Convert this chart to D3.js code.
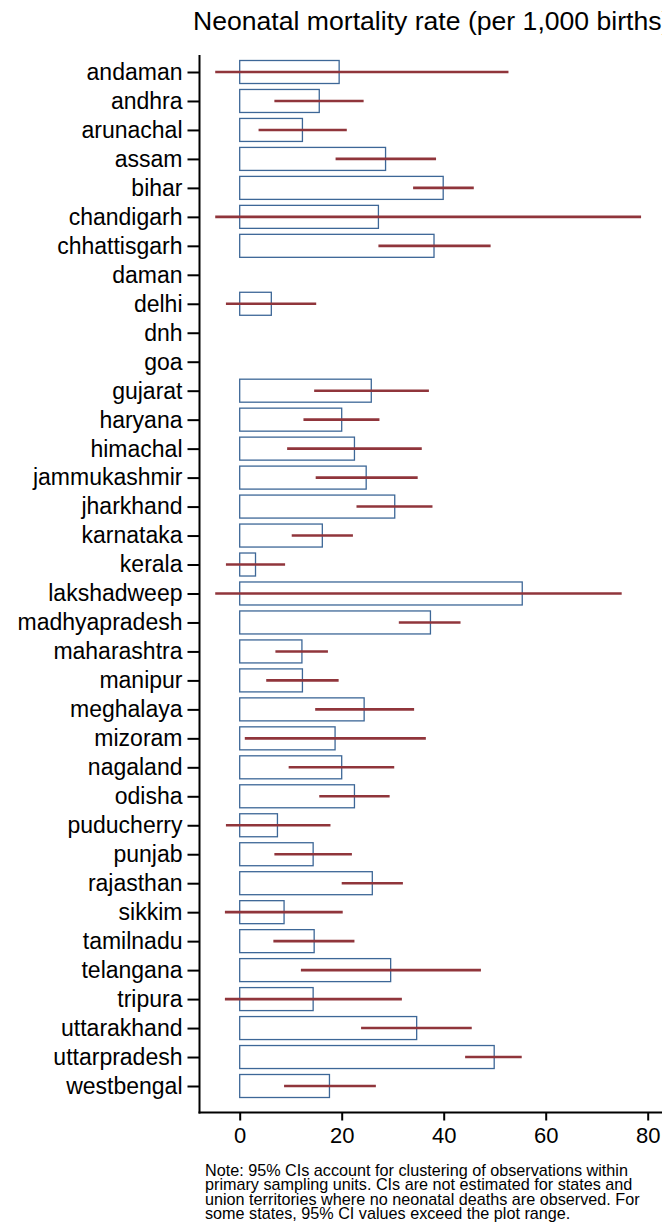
<!DOCTYPE html>
<html>
<head>
<meta charset="utf-8">
<script src="https://cdn.jsdelivr.net/npm/d3@7"></script>
<style>
  body { margin: 0; background: #fff; overflow: hidden; }
  svg { display: block; font-family: "Liberation Sans", Arial, sans-serif; }
</style>
</head>
<body>
<svg id="chart" width="662" height="1228"></svg>
<script>
// states (top to bottom)
const states = ['andaman','andhra','arunachal','assam','bihar','chandigarh','chhattisgarh','daman','delhi','dnh','goa','gujarat','haryana','himachal','jammukashmir','jharkhand','karnataka','kerala','lakshadweep','madhyapradesh','maharashtra','manipur','meghalaya','mizoram','nagaland','odisha','puducherry','punjab','rajasthan','sikkim','tamilnadu','telangana','tripura','uttarakhand','uttarpradesh','westbengal']
// neonatal mortality rate, null = no deaths observed
const nmr = [19.5,15.6,12.3,28.6,39.9,27.2,38.1,null,6.2,null,null,25.8,20.0,22.5,24.8,30.4,16.2,3.1,55.4,37.4,12.2,12.3,24.4,18.7,20.0,22.5,7.4,14.4,26.0,8.7,14.6,29.6,14.4,34.7,49.9,17.6]
const ciLow = [-4.8,6.8,3.7,18.8,34.0,-4.8,27.2,null,-2.7,null,null,14.6,12.5,9.3,14.9,22.9,10.2,-2.7,-4.8,31.2,7.0,5.2,14.8,1.0,9.6,15.6,-2.7,6.8,20.0,-2.9,6.6,12.0,-2.9,23.8,44.2,8.7]
const ciHigh = [52.7,24.3,21.0,38.5,45.9,78.7,49.2,null,15.0,null,null,37.1,27.4,35.7,34.9,37.8,22.2,8.9,74.9,43.3,17.3,19.4,34.2,36.5,30.3,29.4,17.8,22.0,32.0,20.2,22.5,47.3,31.8,45.5,55.3,26.7]
const xTicks = [0,20,40,60,80]
const title = 'Neonatal mortality rate (per 1,000 births)'
const noteLines = [
  'Note: 95% CIs account for clustering of observations within',
  'primary sampling units. CIs are not estimated for states and',
  'union territories where no neonatal deaths are observed. For',
  'some states, 95% CI values exceed the plot range.'
]

const data = states.map((s, i) => ({state: s, v: nmr[i], lo: ciLow[i], hi: ciHigh[i]}))

const svg = d3.select('#chart')
const axisX0 = 199.5, axisY = 1112.5, plotTop = 55

const x = d3.scaleLinear().domain([0, 80]).range([239.7, 647.7])
const y = d3.scalePoint().domain(states).range([72, 1086])
const barH = 23

svg.append('text')
  .attr('x', 193).attr('y', 30)
  .style('font-size', '26.6px')
  .attr('fill', '#000')
  .text(title)

// bars
svg.selectAll('.bar')
  .data(data.filter(d => d.v != null))
  .join('rect')
  .attr('class', 'bar')
  .attr('x', x(0))
  .attr('y', d => y(d.state) - barH / 2)
  .attr('width', d => x(d.v) - x(0))
  .attr('height', barH)
  .attr('fill', 'none')
  .attr('stroke', '#3d6797')
  .attr('stroke-width', 1.3)

// CI lines
svg.selectAll('.ci')
  .data(data.filter(d => d.lo != null))
  .join('line')
  .attr('class', 'ci')
  .attr('x1', d => x(d.lo))
  .attr('x2', d => x(d.hi))
  .attr('y1', d => y(d.state))
  .attr('y2', d => y(d.state))
  .attr('stroke', '#90353b')
  .attr('stroke-width', 2.6)

// axes
const yAxis = d3.axisLeft(y).tickSize(12).tickPadding(5).tickSizeOuter(0)
const gy = svg.append('g').attr('transform', `translate(${axisX0},0)`).call(yAxis)
gy.select('.domain').remove()
gy.selectAll('.tick line').attr('stroke', '#000').attr('stroke-width', 2)
gy.selectAll('.tick text').style('font-size', '23px').attr('fill', '#000')

const xAxis = d3.axisBottom(x).tickValues(xTicks).tickSize(8).tickPadding(7).tickSizeOuter(0)
const gx = svg.append('g').attr('transform', `translate(0,${axisY})`).call(xAxis)
gx.select('.domain').remove()
gx.selectAll('.tick line').attr('stroke', '#000').attr('stroke-width', 2)
gx.selectAll('.tick text').style('font-size', '22px').attr('fill', '#000')

svg.append('line')
  .attr('x1', axisX0).attr('x2', axisX0)
  .attr('y1', plotTop).attr('y2', axisY + 1)
  .attr('stroke', '#000').attr('stroke-width', 2)
svg.append('line')
  .attr('x1', axisX0 - 1).attr('x2', 662)
  .attr('y1', axisY).attr('y2', axisY)
  .attr('stroke', '#000').attr('stroke-width', 2)

// note
svg.append('g').selectAll('text')
  .data(noteLines)
  .join('text')
  .attr('x', 205)
  .attr('y', (d, i) => 1176 + i * 14.4)
  .style('font-size', '16.2px')
  .attr('fill', '#000')
  .text(d => d)
</script>
</body>
</html>
